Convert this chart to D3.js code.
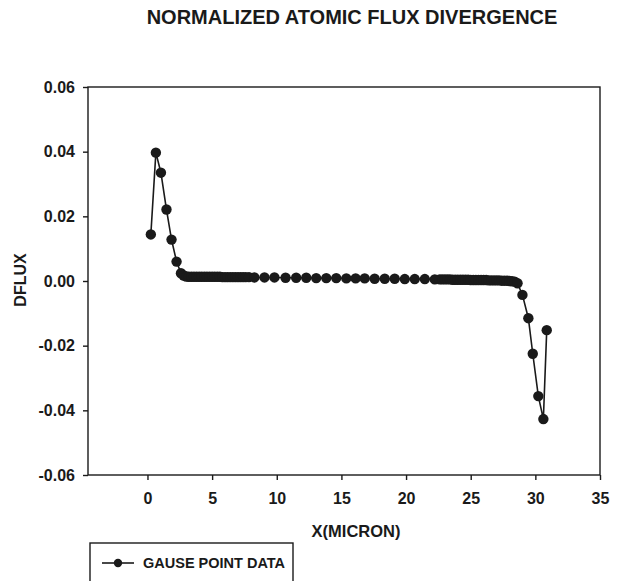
<!DOCTYPE html>
<html><head><meta charset="utf-8">
<script src="https://cdn.jsdelivr.net/npm/d3@7"></script>
<style>
body{margin:0;background:#fff;}
svg text{font-family:"Liberation Sans",Arial,sans-serif;font-weight:bold;fill:#1a1a1a;}
</style></head>
<body><svg id="c" width="626" height="581"></svg>
<script>
const title = "NORMALIZED ATOMIC FLUX DIVERGENCE";
const xLabel = "X(MICRON)";
const yLabel = "DFLUX";
const seriesName = "GAUSE POINT DATA";
const xTicks = [0,5,10,15,20,25,30,35];
const yTicks = [0.06,0.04,0.02,0.00,-0.02,-0.04,-0.06];
const yTickLabels = ["0.06","0.04","0.02","0.00","-0.02","-0.04","-0.06"];
const xPos = [0.26,0.65,1.04,1.47,1.86,2.25,2.59,
  2.80,3.00,3.20,3.40,3.60,3.80,4.00,4.20,4.40,4.60,4.80,5.00,5.20,5.40,5.60,5.80,6.00,6.20,6.40,6.60,6.80,7.00,7.20,7.40,7.60,7.85,
  8.27,9.05,9.82,10.68,11.50,12.28,13.05,13.83,14.60,15.38,16.10,16.80,17.57,18.35,19.12,19.90,20.67,21.45,22.22,
  22.60,22.80,23.00,23.20,23.40,23.60,23.80,24.00,24.20,24.40,24.60,24.80,25.00,25.20,25.40,25.60,25.80,26.00,26.20,26.40,
  26.60,26.80,27.00,27.20,27.40,27.60,27.80,28.00,28.20,28.40,28.62,
  29.00,29.46,29.80,30.23,30.62,30.88];
const dflux = [0.0144,0.0397,0.0335,0.0221,0.0128,0.0060,0.0024,
  0.0017,0.0014,0.0013,0.0013,0.0013,0.0013,0.0013,0.0013,0.0013,0.0013,0.0013,0.0013,0.0013,0.0013,0.0013,0.0012,0.0012,0.0012,0.0012,0.0012,0.0012,0.0012,0.0012,0.0012,0.0012,0.0012,
  0.0011,0.0011,0.0011,0.0010,0.0010,0.0010,0.0009,0.0009,0.0009,0.0008,0.0008,0.0008,0.0007,0.0007,0.0007,0.0006,0.0006,0.0006,0.0005,
  0.0005,0.0005,0.0005,0.0005,0.0005,0.0004,0.0004,0.0004,0.0004,0.0004,0.0004,0.0004,0.0003,0.0003,0.0003,0.0003,0.0003,0.0003,0.0003,0.0002,
  0.0002,0.0002,0.0002,0.0002,0.0001,0.0001,0.0001,0.0000,-0.0001,-0.0002,-0.0007,
  -0.0043,-0.0115,-0.0225,-0.0356,-0.0427,-0.0152];

const svg = d3.select("#c");
const L=88,R=600,T=87,B=475;
const x = d3.scaleLinear().domain([-4.6,35]).range([L,R]);
const y = d3.scaleLinear().domain([-0.06,0.06]).range([B,T]);
const ink="#1a1a1a";
const ff="'Liberation Sans',Arial,sans-serif";

svg.append("text").attr("x",352).attr("y",24).attr("text-anchor","middle")
  .style("font-size","20px").text(title);

// frame
svg.append("rect").attr("x",L).attr("y",T).attr("width",R-L).attr("height",B-T)
  .attr("fill","none").attr("stroke",ink).attr("stroke-width",1.4);

const yAxis = d3.axisLeft(y).tickValues(yTicks).tickSize(5).tickPadding(8)
  .tickFormat((d,i)=>yTickLabels[i]);
const gy = svg.append("g").attr("transform",`translate(${L},0)`).call(yAxis);
gy.select(".domain").remove();
gy.selectAll(".tick line").attr("stroke",ink).attr("stroke-width",1.4);
gy.selectAll(".tick text").style("font-size","16px").style("font-family",ff).attr("fill",ink);

const xAxis = d3.axisBottom(x).tickValues(xTicks).tickSize(5).tickPadding(13).tickFormat(d3.format("d"));
const gx = svg.append("g").attr("transform",`translate(0,${B})`).call(xAxis);
gx.select(".domain").remove();
gx.selectAll(".tick line").attr("stroke",ink).attr("stroke-width",1.4);
gx.selectAll(".tick text").style("font-size","16px").style("font-family",ff).attr("fill",ink);

svg.append("text").attr("transform","translate(26,280) rotate(-90)").attr("text-anchor","middle")
  .style("font-size","16px").text(yLabel);
svg.append("text").attr("x",356).attr("y",537).attr("text-anchor","middle")
  .style("font-size","16.5px").text(xLabel);

const data = xPos.map((v,i)=>({x:v,y:dflux[i]}));
svg.append("path").datum(data).attr("fill","none").attr("stroke",ink).attr("stroke-width",1.6)
  .attr("d",d3.line().x(d=>x(d.x)).y(d=>y(d.y)));
svg.append("g").selectAll("circle").data(data).join("circle")
  .attr("cx",d=>x(d.x)).attr("cy",d=>y(d.y)).attr("r",5.2).attr("fill",ink);

// legend
const lg = svg.append("g");
lg.append("rect").attr("x",90).attr("y",543).attr("width",203).attr("height",50)
  .attr("fill","none").attr("stroke",ink).attr("stroke-width",1.4);
lg.append("line").attr("x1",102).attr("x2",134).attr("y1",563).attr("y2",563).attr("stroke",ink).attr("stroke-width",1.6);
lg.append("circle").attr("cx",118).attr("cy",563).attr("r",4.2).attr("fill",ink);
lg.append("text").attr("x",143).attr("y",568).style("font-size","14.5px").text(seriesName);
</script></body></html>
